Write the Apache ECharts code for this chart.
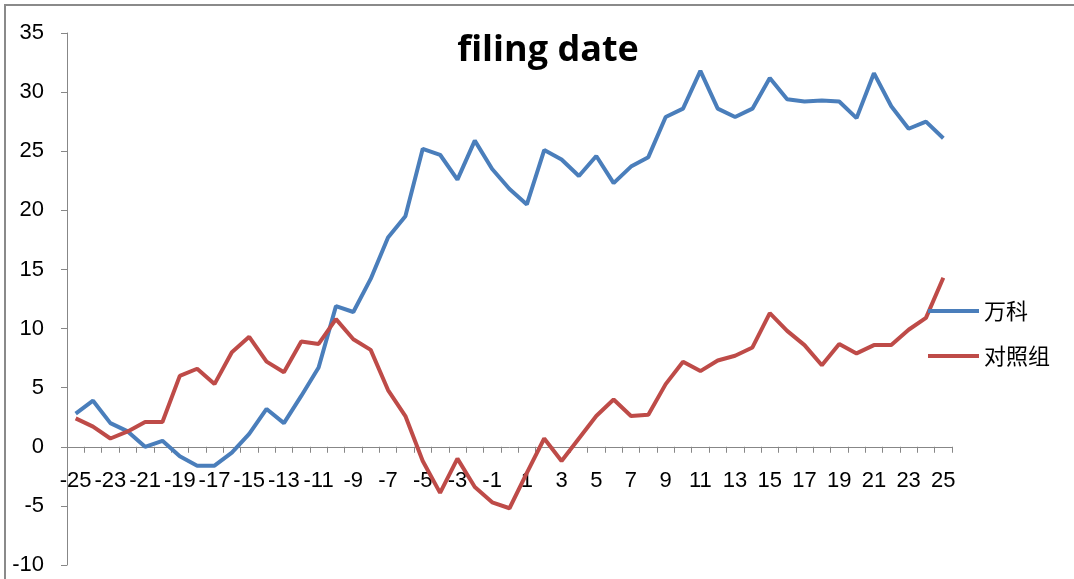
<!DOCTYPE html>
<html>
<head>
<meta charset="utf-8">
<script src="https://cdn.jsdelivr.net/npm/echarts@6/dist/echarts.min.js"></script>
<style>
  html, body { margin: 0; padding: 0; background: #fff; }
  #main { width: 1074px; height: 579px; }
</style>
</head>
<body>
<div id="main"></div>
<script>
// 横轴：申报日前后 -25 ~ 25
const days = [];
for (let d = -25; d <= 25; d++) days.push(String(d));

const vanke = [
  2.8, 3.9, 2.0, 1.3, 0.0, 0.5, -0.8, -1.6, -1.6, -0.5,
  1.1, 3.2, 2.0, 4.3, 6.7, 11.9, 11.4, 14.2, 17.7, 19.5,
  25.2, 24.7, 22.6, 25.9, 23.5, 21.8, 20.5, 25.1, 24.3, 22.9,
  24.6, 22.3, 23.7, 24.5, 27.9, 28.6, 31.8, 28.6, 27.9, 28.6,
  31.2, 29.4, 29.2, 29.3, 29.2, 27.8, 31.6, 28.8, 26.9, 27.5,
  26.1
];

const control = [
  2.4, 1.7, 0.7, 1.3, 2.1, 2.1, 6.0, 6.6, 5.3, 8.0,
  9.3, 7.2, 6.3, 8.9, 8.7, 10.8, 9.1, 8.2, 4.8, 2.6,
  -1.2, -3.9, -1.0, -3.4, -4.7, -5.2, -2.2, 0.7, -1.2, 0.7,
  2.6, 4.0, 2.6, 2.7, 5.3, 7.2, 6.4, 7.3, 7.7, 8.4,
  11.3, 9.8, 8.6, 6.9, 8.7, 7.9, 8.6, 8.6, 9.9, 10.9,
  14.3
];

const yTicks = { min: -10, max: 35, interval: 5 };

const font = '"Liberation Sans", "Noto Sans CJK SC", sans-serif';
const axisGray = '#878787';

// 绘图区
const gridTop = 33;
const gridBottom = 14;
const gridHeight = 579 - gridTop - gridBottom;
// x轴放在 y=0 处
const zeroOffset = gridHeight * (0 - yTicks.min) / (yTicks.max - yTicks.min);

const myChart = echarts.init(document.getElementById('main'));
const option = {
  animation: false,
  title: {
    text: 'filing date',
    left: 543,
    top: 28,
    textAlign: 'center',
    textStyle: {
      fontFamily: '"Open Sans", sans-serif',
      fontWeight: 'bold',
      fontSize: 36,
      color: '#000'
    }
  },
  legend: {
    orient: 'vertical',
    left: 928,
    top: 300,
    padding: 0,
    itemWidth: 51,
    itemHeight: 4,
    itemGap: 23,
    icon: 'rect',
    textStyle: {
      fontFamily: '"Noto Sans CJK SC", sans-serif',
      fontSize: 22,
      color: '#000'
    },
    data: ['万科', '对照组']
  },
  grid: {
    left: 67,
    right: 122,
    top: gridTop,
    bottom: gridBottom,
    containLabel: false,
    outerBoundsMode: 'none'
  },
  xAxis: {
    type: 'category',
    data: days,
    position: 'bottom',
    offset: -zeroOffset,
    boundaryGap: true,
    axisLine: { onZero: false, lineStyle: { color: axisGray, width: 1 } },
    axisTick: {
      show: true,
      alignWithLabel: false,
      interval: 0,
      length: 6,
      lineStyle: { color: axisGray }
    },
    axisLabel: {
      interval: 1,
      margin: 23,
      fontFamily: font,
      fontSize: 22,
      color: '#000'
    },
    splitLine: { show: false }
  },
  yAxis: {
    type: 'value',
    min: yTicks.min,
    max: yTicks.max,
    interval: yTicks.interval,
    axisLine: { show: true, lineStyle: { color: axisGray, width: 1 } },
    axisTick: { show: true, length: 6, lineStyle: { color: axisGray } },
    axisLabel: {
      margin: 23,
      fontFamily: font,
      fontSize: 22,
      color: '#000'
    },
    splitLine: { show: false }
  },
  graphic: [
    {
      type: 'polyline',
      shape: { points: [[5, 579], [5, 5], [1074, 5]] },
      style: { stroke: '#8a8a8a', lineWidth: 2, fill: null }
    }
  ],
  series: [
    {
      name: '万科',
      type: 'line',
      data: vanke,
      showSymbol: false,
      symbol: 'none',
      lineStyle: { color: '#4a7ebb', width: 4 },
      itemStyle: { color: '#4a7ebb' }
    },
    {
      name: '对照组',
      type: 'line',
      data: control,
      showSymbol: false,
      symbol: 'none',
      lineStyle: { color: '#be4b48', width: 4 },
      itemStyle: { color: '#be4b48' }
    }
  ]
};

option && myChart.setOption(option);
</script>
</body>
</html>
